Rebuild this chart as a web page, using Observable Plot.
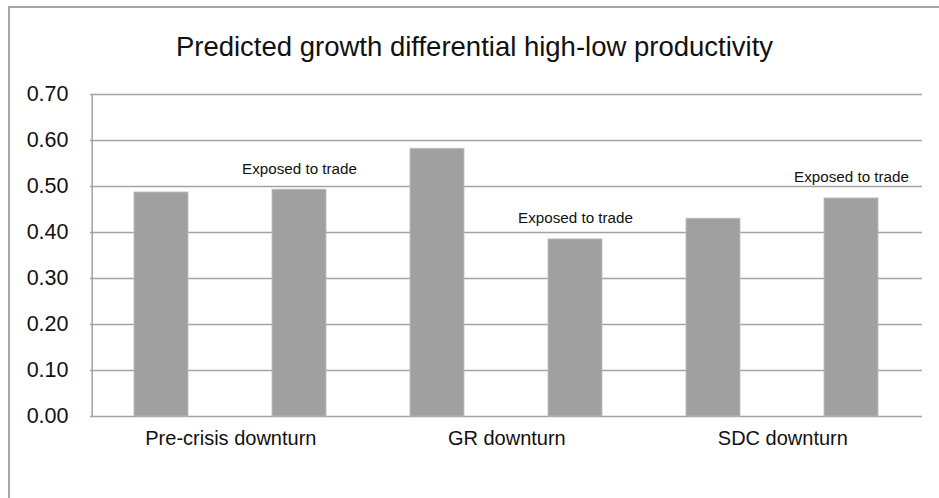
<!DOCTYPE html>
<html>
<head>
<meta charset="utf-8">
<script src="https://cdn.jsdelivr.net/npm/d3@7"></script>
<script src="https://cdn.jsdelivr.net/npm/@observablehq/plot@0.6"></script>
<style>
  html, body { margin: 0; padding: 0; background: #fff; }
  body { width: 939px; height: 498px; overflow: hidden; position: relative; font-family: "Liberation Sans", Arial, Helvetica, sans-serif; }
  #wrap { position: absolute; left: 8px; top: 6px; width: 931px; height: 492px; box-sizing: border-box;
          border-top: 2px solid #a6a6a6; border-left: 2px solid #a6a6a6; }
  #title { height: 54px; line-height: 54px; padding-top: 12px; text-align: center; font-size: 27.5px; color: #111; white-space: nowrap; }
  #chart svg { display: block; }
</style>
</head>
<body>
<div id="wrap">
  <div id="title">Predicted growth differential high-low productivity</div>
  <div id="chart"></div>
</div>
<script>
const barIds = ["Pre-crisis", "Pre-crisis exposed", "GR", "GR exposed", "SDC", "SDC exposed"];
const values = [0.487, 0.493, 0.582, 0.385, 0.430, 0.474];
const exposed = [false, true, false, true, false, true];
const groupLabels = ["Pre-crisis downturn", "GR downturn", "SDC downturn"];
const groupFirstBar = ["Pre-crisis", "GR", "SDC"];
const exposedText = "Exposed to trade";
const yTicks = [0, 0.1, 0.2, 0.3, 0.4, 0.5, 0.6, 0.7];

const bars = barIds.map((id, i) => ({id, value: values[i], exposed: exposed[i]}));
const groups = groupLabels.map((label, i) => ({label, first: groupFirstBar[i]}));

const W = 929, H = 424;
const mL = 80, mR = 17, mT = 20, mB = 82;
const step = (W - mL - mR) / barIds.length;

const chart = Plot.plot({
  width: W,
  height: H,
  marginLeft: mL,
  marginRight: mR,
  marginTop: mT,
  marginBottom: mB,
  style: {fontFamily: "'Liberation Sans', Arial, Helvetica, sans-serif", background: "#fff", color: "#111"},
  x: {domain: barIds, paddingInner: 0.61, paddingOuter: 0.305, axis: null},
  y: {domain: [0, 0.7], axis: null},
  marks: [
    Plot.ruleY(yTicks, {stroke: "#a3a3a3", strokeWidth: 1.5, strokeOpacity: 1}),
    Plot.ruleX([0], {x: () => barIds[0], y1: 0, y2: 0.7, dx: -step * 0.305 - step * 0.39 / 2, stroke: "#a3a3a3", strokeWidth: 1.5}),
    Plot.barY(bars, {x: "id", y: "value", fill: "#a0a0a0", stroke: "#bdbdbd", strokeWidth: 0.8}),
    Plot.text(bars.filter(d => d.exposed), {x: "id", y: "value", text: () => exposedText, dy: -21, fontSize: 15.2, fill: "#111"}),
    Plot.text(groups, {x: "first", y: () => 0, text: "label", dx: step / 2, dy: 22, fontSize: 20, fill: "#111"}),
    Plot.axisY({ticks: yTicks, tickFormat: d3.format(".2f"), tickSize: 0, tickPadding: 22, fontSize: 21.5, anchor: "left", label: null})
  ]
});
document.getElementById("chart").appendChild(chart);
</script>
</body>
</html>
